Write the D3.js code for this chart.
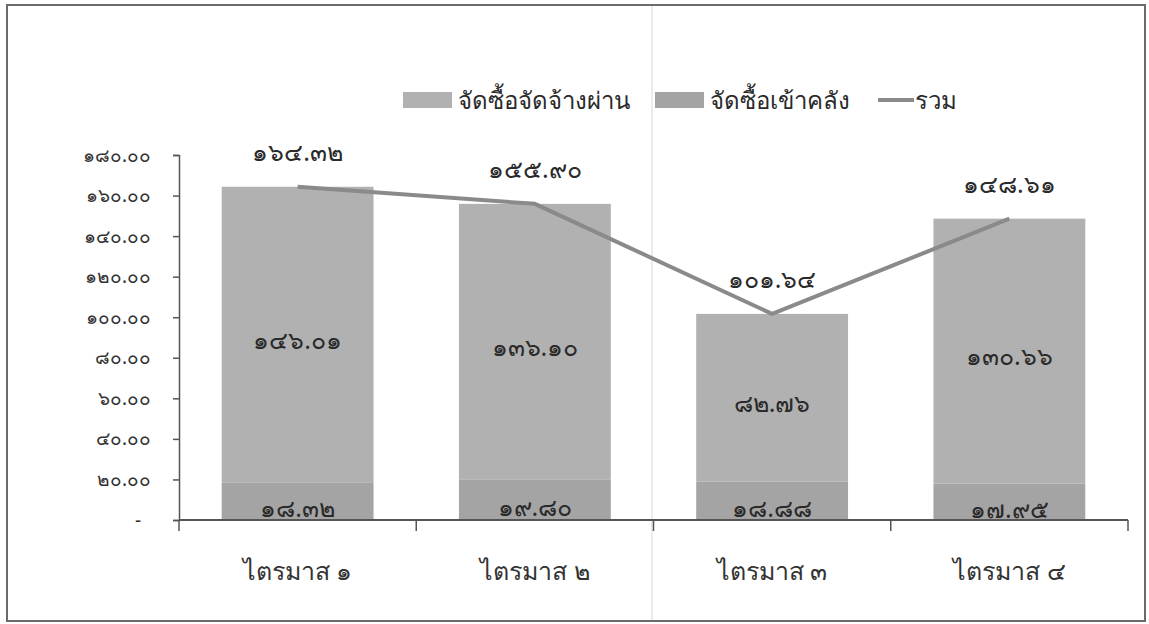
<!DOCTYPE html>
<html>
<head>
<meta charset="utf-8">
<script src="https://cdn.jsdelivr.net/npm/d3@7"></script>
<style>
  html, body { margin: 0; padding: 0; background: #fff; }
  svg text { font-family: "Noto Sans", "DejaVu Sans", sans-serif; }
</style>
</head>
<body>
<svg id="chart" width="1149" height="624"></svg>
<script>
const categories = ["ไตรมาส ๑", "ไตรมาส ๒", "ไตรมาส ๓", "ไตรมาส ๔"];
const seriesNames = ["จัดซื้อจัดจ้างผ่าน", "จัดซื้อเข้าคลัง", "รวม"];
const stockValues = [18.32, 19.80, 18.88, 17.95];      // จัดซื้อเข้าคลัง (bottom)
const directValues = [146.01, 136.10, 82.76, 130.66];  // จัดซื้อจัดจ้างผ่าน (top)
const totalValues = [164.32, 155.90, 101.64, 148.61];  // รวม (line)
const yTicks = [0, 20, 40, 60, 80, 100, 120, 140, 160, 180];

const thaiDigits = "๐๑๒๓๔๕๖๗๘๙";
const toThai = s => String(s).replace(/[0-9]/g, d => thaiDigits[+d]);
const fmt = v => v === 0 ? "-" : toThai(v.toFixed(2));

const W = 1149, H = 624;
const m = { top: 155, right: 21, bottom: 104, left: 179 };
const iW = W - m.left - m.right;
const iH = H - m.top - m.bottom;

const svg = d3.select("#chart");

// frame
svg.append("rect").attr("x", 7).attr("y", 5).attr("width", 1138).attr("height", 616)
  .attr("fill", "none").attr("stroke", "#6b6b6b").attr("stroke-width", 2);
// faint fold line of the scan
svg.append("line").attr("x1", 652).attr("x2", 652).attr("y1", 6).attr("y2", 620)
  .attr("stroke", "#e3e6ec").attr("stroke-width", 1.5);

const g = svg.append("g").attr("transform", `translate(${m.left},${m.top})`);

const x = d3.scaleBand().domain(categories).range([0, iW]).paddingInner(0.36).paddingOuter(0.18);
const y = d3.scaleLinear().domain([0, 180]).range([iH, 0]);

const data = categories.map((c, i) => ({ cat: c, stock: stockValues[i], direct: directValues[i], total: totalValues[i] }));

// bars: bottom segment (เข้าคลัง)
g.selectAll(".bar-stock").data(data).join("rect")
  .attr("class", "bar-stock")
  .attr("x", d => x(d.cat)).attr("width", x.bandwidth())
  .attr("y", d => y(d.stock)).attr("height", d => y(0) - y(d.stock))
  .attr("fill", "#a4a4a4");
// top segment (จัดจ้างผ่าน)
g.selectAll(".bar-direct").data(data).join("rect")
  .attr("class", "bar-direct")
  .attr("x", d => x(d.cat)).attr("width", x.bandwidth())
  .attr("y", d => y(d.stock + d.direct)).attr("height", d => y(d.stock) - y(d.stock + d.direct))
  .attr("fill", "#b1b1b1");

// Y axis
g.append("g")
  .call(d3.axisLeft(y).tickValues(yTicks).tickFormat(fmt).tickSizeOuter(0).tickSize(6))
  .call(ax => {
    ax.select(".domain").attr("stroke", "#555").attr("stroke-width", 1.5);
    ax.selectAll(".tick line").attr("stroke", "#555").attr("stroke-width", 1.5);
    ax.selectAll(".tick text").attr("x", -28).style("fill", "#333").style("font-size", "19px")
      .style("font-family", "'Noto Sans', 'DejaVu Sans', sans-serif");
    ax.selectAll(".tick").filter(d => d === 0).select("text").attr("x", -38);
  });

// X axis, ticks at band edges
const edges = categories.map(c => x(c) - x.step() * x.paddingInner() / 2);
edges.push(iW);
edges[0] = 0;
g.append("line").attr("x1", 0).attr("x2", iW).attr("y1", iH).attr("y2", iH)
  .attr("stroke", "#555").attr("stroke-width", 2);
g.selectAll(".xtick").data(edges).join("line")
  .attr("x1", d => d).attr("x2", d => d).attr("y1", iH).attr("y2", iH + 11)
  .attr("stroke", "#555").attr("stroke-width", 1.5);
g.selectAll(".xlabel").data(categories).join("text")
  .attr("x", d => x(d) + x.bandwidth() / 2).attr("y", iH + 60)
  .attr("text-anchor", "middle").style("fill", "#333").style("font-size", "25px")
  .text(d => d);

// total line
const line = d3.line().x(d => x(d.cat) + x.bandwidth() / 2).y(d => y(d.total));
g.append("path").datum(data).attr("fill", "none")
  .attr("stroke", "#8a8a8a").attr("stroke-width", 4).attr("stroke-linejoin", "round").attr("d", line);

// labels
const numSize = "25px";
g.selectAll(".lbl-total").data(data).join("text")
  .attr("x", d => x(d.cat) + x.bandwidth() / 2).attr("y", d => y(d.total) - 26)
  .attr("text-anchor", "middle").style("fill", "#2a2a2a").style("font-size", numSize)
  .text(d => fmt(d.total));
g.selectAll(".lbl-direct").data(data).join("text")
  .attr("x", d => x(d.cat) + x.bandwidth() / 2).attr("y", d => y(d.stock + d.direct / 2) + 14)
  .attr("text-anchor", "middle").style("fill", "#2a2a2a").style("font-size", numSize)
  .text(d => fmt(d.direct));
g.selectAll(".lbl-stock").data(data).join("text")
  .attr("x", d => x(d.cat) + x.bandwidth() / 2).attr("y", d => y(d.stock / 2) + 16)
  .attr("text-anchor", "middle").style("fill", "#2a2a2a").style("font-size", numSize)
  .text(d => fmt(d.stock));

// legend
const legend = svg.append("g").attr("transform", "translate(403,100)");
const legItems = [
  { name: seriesNames[0], x: 0, kind: "rect", color: "#b1b1b1" },
  { name: seriesNames[1], x: 252, kind: "rect", color: "#a4a4a4" },
  { name: seriesNames[2], x: 475, kind: "line", color: "#8a8a8a" }
];
legItems.forEach(it => {
  const e = legend.append("g").attr("transform", `translate(${it.x},0)`);
  if (it.kind === "rect") {
    e.append("rect").attr("x", 0).attr("y", -8).attr("width", 49).attr("height", 16).attr("fill", it.color);
    e.append("text").attr("x", 55).attr("y", 9).style("fill", "#2a2a2a").style("font-size", "24px").text(it.name);
  } else {
    e.append("line").attr("x1", 0).attr("x2", 36).attr("y1", 0).attr("y2", 0)
      .attr("stroke", it.color).attr("stroke-width", 4);
    e.append("text").attr("x", 37).attr("y", 9).style("fill", "#2a2a2a").style("font-size", "24px").text(it.name);
  }
});
</script>
</body>
</html>
